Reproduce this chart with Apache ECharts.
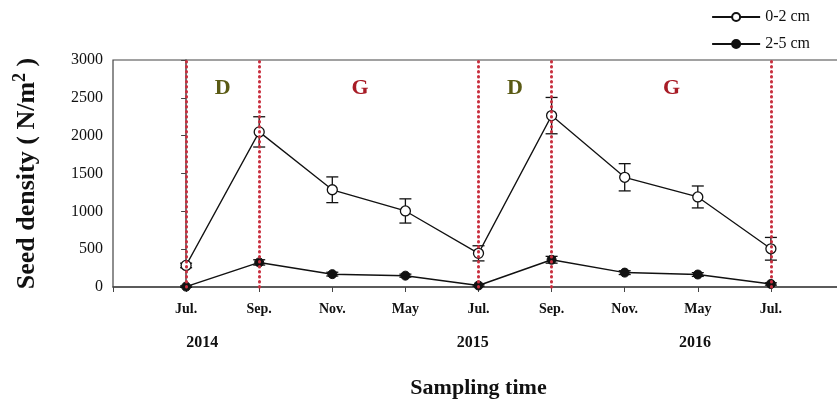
<!DOCTYPE html>
<html>
<head>
<meta charset="utf-8">
<script src="https://cdn.jsdelivr.net/npm/echarts@6/dist/echarts.min.js"></script>
<style>
  html, body { margin: 0; padding: 0; background: #fff; }
  #chart { width: 837px; height: 402px; }
</style>
</head>
<body>
<div id="chart"></div>
<script>
// sampling months (index 0..8)
const months = ["Jul.", "Sep.", "Nov.", "May", "Jul.", "Sep.", "Nov.", "May", "Jul."];
const years = ["2014", "2015", "2016"];
const yearPos = [0.22, 3.92, 6.96];

// seed density (N/m2)
const shallow = [285, 2050, 1285, 1005, 445, 2265, 1450, 1190, 505]; // 0-2 cm
const shallowErr = [30, 200, 170, 160, 100, 240, 180, 145, 150];
const deep = [5, 325, 170, 150, 20, 360, 190, 165, 40]; // 2-5 cm
const deepErr = [10, 35, 25, 20, 10, 45, 25, 25, 15];

// phase boundaries and labels
const phaseLines = [0, 1, 4, 5, 8];
const phaseText = ["D", "G", "D", "G"];
const phaseX = [0.5, 2.38, 4.5, 6.64];
const phaseY = 2620;
const phaseColor = ["#5a5a14", "#a81c26", "#5a5a14", "#a81c26"];

const serif = "Liberation Serif";

const chart = echarts.init(document.getElementById("chart"));

function errorBars(values, errs) {
  return values.map((v, i) => [i, v, errs[i]]);
}

function renderErr(params, api) {
  const x = api.value(0);
  const y = api.value(1);
  const e = api.value(2);
  const hi = api.coord([x, y + e]);
  const lo = api.coord([x, y - e]);
  const w = 6;
  const style = { stroke: "#111", lineWidth: 1.3 };
  return {
    type: "group",
    children: [
      { type: "line", shape: { x1: hi[0], y1: hi[1], x2: lo[0], y2: lo[1] }, style: style },
      { type: "line", shape: { x1: hi[0] - w, y1: hi[1], x2: hi[0] + w, y2: hi[1] }, style: style },
      { type: "line", shape: { x1: lo[0] - w, y1: lo[1], x2: lo[0] + w, y2: lo[1] }, style: style },
    ],
  };
}

const option = {
  animation: false,
  backgroundColor: "#fff",
  grid: {
    left: 113,
    right: -7,
    top: 60,
    bottom: 115,
    outerBoundsMode: "none",
    show: true,
    borderColor: "#444",
    borderWidth: 1.2,
  },
  legend: {
    orient: "vertical",
    right: 22,
    top: 4,
    itemWidth: 48,
    itemHeight: 10,
    itemGap: 11,
    textStyle: { fontFamily: serif, fontSize: 16, color: "#111" },
    data: ["0-2 cm", "2-5 cm"],
  },
  xAxis: [
    {
      type: "value",
      min: -1,
      max: 9,
      interval: 1,
      name: "Sampling time",
      nameLocation: "middle",
      nameGap: 90,
      nameTextStyle: { fontFamily: serif, fontSize: 22, fontWeight: "bold", color: "#111" },
      axisLine: { onZero: false, lineStyle: { color: "#444", width: 1.5 } },
      axisTick: { show: true, length: 5, lineStyle: { color: "#444" } },
      splitLine: { show: false },
      axisLabel: {
        margin: 15,
        fontFamily: serif,
        fontSize: 14,
        fontWeight: "bold",
        color: "#111",
        formatter: (v) => (months[v] !== undefined ? months[v] : ""),
      },
    },
    {
      type: "value",
      position: "bottom",
      offset: 40,
      min: -1,
      max: 9,
      axisLine: { show: false },
      axisTick: { show: false },
      splitLine: { show: false },
      axisLabel: {
        customValues: yearPos,
        fontFamily: serif,
        fontSize: 16,
        fontWeight: "bold",
        color: "#111",
        formatter: (v) => {
          const k = yearPos.indexOf(v);
          return k >= 0 ? years[k] : "";
        },
      },
    },
  ],
  yAxis: {
    type: "value",
    min: 0,
    max: 3000,
    interval: 500,
    name: "Seed density ( N/m{sup|2} )",
    nameLocation: "middle",
    nameGap: 70,
    nameRotate: 90,
    nameTextStyle: {
      fontFamily: serif,
      fontSize: 26,
      fontWeight: "bold",
      color: "#111",
      rich: {
        sup: { fontFamily: serif, fontSize: 18, fontWeight: "bold", color: "#111", verticalAlign: "top", padding: [0, 0, 14, 0] },
      },
    },
    axisLine: { show: true, lineStyle: { color: "#444", width: 1.5 } },
    axisTick: { show: true, length: 5, lineStyle: { color: "#444" } },
    splitLine: { show: false },
    axisLabel: { margin: 10, fontFamily: serif, fontSize: 16, color: "#111", formatter: (v) => String(v) },
  },
  series: [
    {
      name: "phases",
      type: "scatter",
      symbolSize: 0,
      itemStyle: { opacity: 1 },
      data: phaseText.map((t, i) => ({
        value: [phaseX[i], phaseY],
        label: { show: true, formatter: t, color: phaseColor[i], opacity: 1 },
      })),
      label: { position: "inside", fontFamily: serif, fontSize: 22, fontWeight: "bold" },
      markLine: {
        silent: true,
        symbol: "none",
        label: { show: false },
        lineStyle: { color: "#c8303f", type: [0.5, 4.5], width: 3, cap: "round" },
        data: phaseLines.map((x) => ({ xAxis: x })),
      },
      z: 1,
    },
    {
      type: "custom",
      renderItem: renderErr,
      data: errorBars(shallow, shallowErr),
      encode: { x: 0, y: 1 },
      z: 2,
    },
    {
      type: "custom",
      renderItem: renderErr,
      data: errorBars(deep, deepErr),
      encode: { x: 0, y: 1 },
      z: 2,
    },
    {
      name: "0-2 cm",
      type: "line",
      data: shallow.map((v, i) => [i, v]),
      symbol: "circle",
      symbolSize: 10,
      lineStyle: { color: "#111", width: 1.3 },
      itemStyle: { color: "#fff", borderColor: "#111", borderWidth: 1.3 },
      z: 3,
    },
    {
      name: "2-5 cm",
      type: "line",
      data: deep.map((v, i) => [i, v]),
      symbol: "circle",
      symbolSize: 9,
      lineStyle: { color: "#111", width: 1.5 },
      itemStyle: { color: "#111", borderColor: "#111", borderWidth: 1 },
      z: 3,
    },
  ],
};

chart.setOption(option);
</script>
</body>
</html>
